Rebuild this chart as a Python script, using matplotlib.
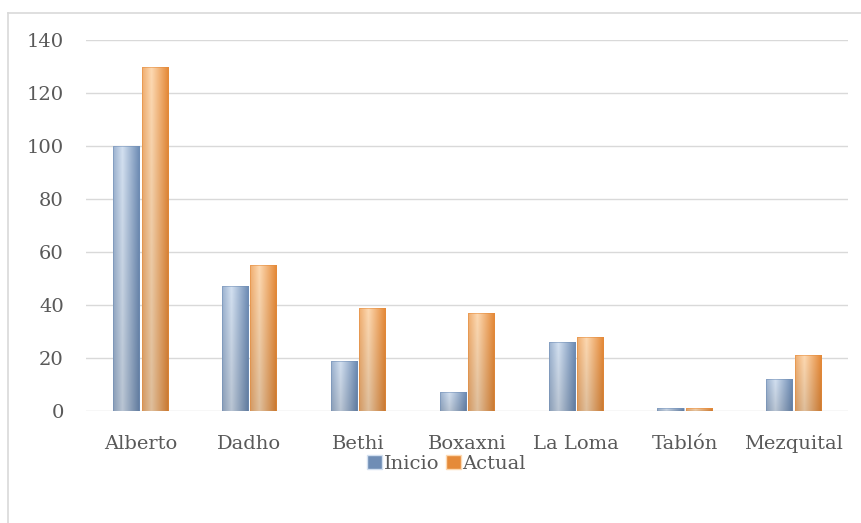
import numpy as np
import matplotlib
matplotlib.use("Agg")
import matplotlib.pyplot as plt
from matplotlib.patches import Rectangle, Patch
from matplotlib.lines import Line2D

categories = ["Alberto", "Dadho", "Bethi", "Boxaxni", "La Loma", "Tablón", "Mezquital"]
inicio = [100, 47, 19, 7, 26, 1, 12]
actual = [130, 55, 39, 37, 28, 1, 21]
series_names = ["Inicio", "Actual"]
yticks = [0, 20, 40, 60, 80, 100, 120, 140]

plt.rcParams['font.family'] = ['DejaVu Serif']
text_color = '#595959'

# light / dark shades for the bevelled look
shades = {
    "Inicio": ('#d3e0f0', '#6f8db5'),
    "Actual": ('#fdd9b2', '#e58a39'),
}


def gradient_bar(ax, x, w, h, light, dark):
    rect = Rectangle((x, 0), w, h, facecolor='none', edgecolor='none')
    ax.add_patch(rect)
    t = np.linspace(0, 1, 64)
    prof = np.clip(1 - np.abs(t - 0.35) * 1.6, 0, 1)
    c1 = np.array(matplotlib.colors.to_rgb(light))
    c2 = np.array(matplotlib.colors.to_rgb(dark))
    img = c2[None, :] + (c1 - c2)[None, :] * prof[:, None]
    vert = np.linspace(1.0, 0.88, 32)
    img = img[None, :, :] * vert[:, None, None]
    im = ax.imshow(img, extent=(x, x + w, 0, h), aspect='auto', origin='upper',
                   interpolation='bilinear', zorder=3)
    im.set_clip_path(rect)
    ax.add_patch(Rectangle((x, 0), w, h, facecolor='none', edgecolor=dark,
                           linewidth=0.6, alpha=0.6, zorder=4))


fig = plt.figure(figsize=(8.62, 5.23), dpi=100)
ax = fig.add_axes([0.0998, 0.2141, 0.8838, 0.7094])

n = len(categories)
x = np.arange(n)
w = 0.24
gap = 0.02
for i in range(n):
    gradient_bar(ax, x[i] - w - gap / 2, w, inicio[i], *shades["Inicio"])
    gradient_bar(ax, x[i] + gap / 2, w, actual[i], *shades["Actual"])

ax.set_xlim(-0.5, n - 0.5)
ax.set_ylim(0, 140)
ax.set_yticks(yticks)
ax.set_xticks(x)
ax.set_xticklabels(categories)
ax.yaxis.grid(True, color='#d9d9d9', linewidth=1)
ax.set_axisbelow(True)
for s in ax.spines.values():
    s.set_visible(False)
ax.tick_params(length=0, labelsize=14, colors=text_color)
ax.tick_params(axis='x', pad=17)
ax.tick_params(axis='y', pad=16)

handles = [Patch(facecolor=shades[k][1], edgecolor=shades[k][0]) for k in series_names]
leg = fig.legend(handles, series_names, loc='center', bbox_to_anchor=(0.518, 0.113),
                 ncol=2, frameon=False, fontsize=14, handlelength=0.75, handleheight=0.75,
                 handletextpad=0.1, columnspacing=0.35)
for t in leg.get_texts():
    t.set_color(text_color)

# outer chart border (left and top edges visible)
fig.add_artist(Line2D([0.0093, 0.0093], [0, 0.976], transform=fig.transFigure,
                      color='#d9d9d9', linewidth=1.2))
fig.add_artist(Line2D([0.0093, 1.0], [0.976, 0.976], transform=fig.transFigure,
                      color='#d9d9d9', linewidth=1.2))

fig.savefig("out.png", dpi=100)
